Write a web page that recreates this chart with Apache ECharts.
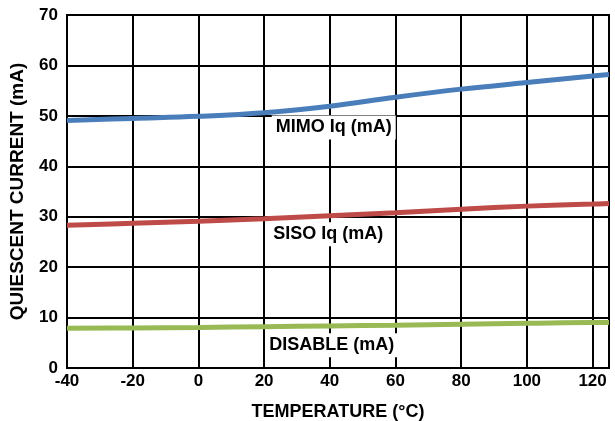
<!DOCTYPE html>
<html><head><meta charset="utf-8">
<script src="https://cdn.jsdelivr.net/npm/echarts@6/dist/echarts.min.js"></script>
<style>html,body{margin:0;padding:0;background:#fff}#c{width:615px;height:421px}</style>
</head><body><div id="c"></div>
<script>
var temps = [-40, -20, 0, 20, 40, 60, 80, 100, 120, 125];
var mimo = [49.1, 49.5, 49.9, 50.6, 51.9, 53.7, 55.3, 56.6, 57.9, 58.2];
var siso = [28.3, 28.7, 29.1, 29.6, 30.2, 30.8, 31.5, 32.1, 32.5, 32.6];
var disable = [7.9, 7.95, 8.05, 8.2, 8.35, 8.5, 8.7, 8.85, 9.0, 9.0];
var labels = [
  {name: 'MIMO Iq (mA)', x: 41.2, y: 47.7},
  {name: 'SISO Iq (mA)', x: 39.5, y: 26.5},
  {name: 'DISABLE (mA)', x: 40.6, y: 4.5}
];
var colors = ['#4a7ebb', '#be4b48', '#98b954'];
var font = 'Liberation Sans, Arial, sans-serif';
function pairs(arr){ return temps.map(function(t,i){return [t, arr[i]];}); }
function mk(l){
  return {silent:true, symbol:'circle', symbolSize:0, animation:false,
    data:[{coord:[l.x, l.y], value:l.name,
      label:{show:true, position:'inside', formatter:l.name, color:'#000', fontWeight:'bold', fontSize:18,
        fontFamily:font, backgroundColor:'#fff', padding:[3,4]}}]};
}
var chart = echarts.init(document.getElementById('c'), null, {renderer:'canvas'});
var series = [mimo, siso, disable].map(function(d, i){
  return {type:'line', data:pairs(d), smooth:0.4, symbol:'none', z:3,
    lineStyle:{color:colors[i], width:5}, markPoint: mk(labels[i])};
});
chart.setOption({
  animation:false,
  grid:{left:67, right:6, top:15, bottom:53, containLabel:false, outerBoundsMode:'none',
    show:true, borderColor:'#000', borderWidth:2},
  xAxis:{type:'value', min:-40, max:125, interval:20,
    name:'TEMPERATURE (°C)', nameLocation:'middle', nameGap:35,
    nameTextStyle:{fontWeight:'bold', fontSize:18, fontFamily:font, color:'#000'},
    axisLine:{show:false}, axisTick:{show:false},
    splitLine:{show:true, lineStyle:{color:'#000', width:2}},
    axisLabel:{fontWeight:'bold', fontSize:17, fontFamily:font, color:'#000', margin:5, showMaxLabel:false}},
  yAxis:{type:'value', min:0, max:70, interval:10,
    name:'QUIESCENT CURRENT (mA)', nameLocation:'middle', nameGap:40,
    nameTextStyle:{fontWeight:'bold', fontSize:19, fontFamily:font, color:'#000'},
    axisLine:{show:false}, axisTick:{show:false},
    splitLine:{show:true, lineStyle:{color:'#000', width:2}},
    axisLabel:{fontWeight:'bold', fontSize:17, fontFamily:font, color:'#000', margin:9}},
  series: series
});
</script></body></html>
